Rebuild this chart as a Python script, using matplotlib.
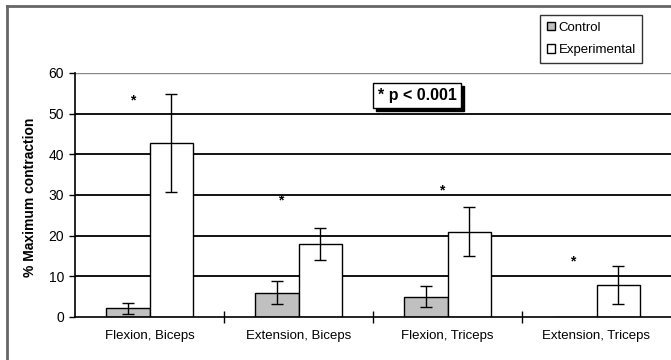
import matplotlib
matplotlib.use("Agg")
import matplotlib.pyplot as plt
from matplotlib.lines import Line2D
from matplotlib.patches import Rectangle
import numpy as np

plt.rcParams['font.family'] = ['Liberation Sans', 'DejaVu Sans']

categories = ["Flexion, Biceps", "Extension, Biceps", "Flexion, Triceps", "Extension, Triceps"]
control = [2.1, 6.0, 5.0, 0.0]
control_err = [1.3, 2.9, 2.6, 0.0]
experimental = [42.8, 18.0, 21.0, 7.9]
experimental_err = [12.0, 4.0, 6.0, 4.6]
star_x = [-0.11, 0.88, 1.96, 2.84]
star_y = [53.3, 28.7, 31.2, 13.6]
yticks = [0, 10, 20, 30, 40, 50, 60]

fig = plt.figure(figsize=(6.71, 3.6), dpi=100)
ax = fig.add_axes([75/671, 1-317/360, 1-75/671, (317-73)/360])

x = np.arange(len(categories))
w = 0.29
ax.set_axisbelow(True)
for yv in yticks[1:]:
    ax.axhline(yv, color='#888888' if yv == 60 else 'black', lw=1.0 if yv == 60 else 1.3, zorder=0)

ax.bar(x - w/2, control, w, color='#c0c0c0', edgecolor='black', lw=1.0, zorder=2, label='Control')
ax.bar(x + w/2, experimental, w, color='white', edgecolor='black', lw=1.0, zorder=2, label='Experimental')
ax.errorbar(x[:3] - w/2, control[:3], yerr=control_err[:3], fmt='none', ecolor='black',
            elinewidth=1.0, capsize=4, capthick=1.0, zorder=3)
ax.errorbar(x + w/2, experimental, yerr=experimental_err, fmt='none', ecolor='black',
            elinewidth=1.0, capsize=4, capthick=1.0, zorder=3)

for sx, sy in zip(star_x, star_y):
    ax.text(sx, sy, '*', ha='center', va='center', fontsize=10, fontweight='bold', zorder=4)

ax.set_xlim(-0.5, 3.5)
ax.set_ylim(0, 60)
ax.set_yticks(yticks)
ax.set_xticks(x)
ax.set_xticklabels(categories, fontsize=9.5)
ax.set_xticks([0.5, 1.5, 2.5], minor=True)
ax.tick_params(axis='x', which='major', length=0, pad=9)
ax.tick_params(axis='x', which='minor', length=8, direction='inout', width=1)
ax.tick_params(axis='y', length=4, width=1, labelsize=10, pad=4)
for s in ['top', 'right']:
    ax.spines[s].set_visible(False)
for s in ['left', 'bottom']:
    ax.spines[s].set_linewidth(1.2)
ax.set_ylabel('% Maximum contraction', fontsize=10, fontweight='bold')
ax.yaxis.set_label_coords(-0.063, 0.49)

# p-value box with drop shadow
ptxt = ax.text(1.795, 54.5, '* p < 0.001', ha='center', va='center', fontsize=11.5, fontweight='bold',
               color='black', zorder=6,
               bbox=dict(boxstyle='square,pad=0.3', fc='white', ec='black', lw=1))

leg = fig.legend(loc='upper left', bbox_to_anchor=(540/671, 1-15/360), fontsize=9.5,
                 frameon=True, fancybox=False, edgecolor='black', handlelength=0.6,
                 handleheight=0.6, handletextpad=0.3, labelspacing=0.8, borderpad=0.5,
                 borderaxespad=0)
leg.get_frame().set_linewidth(1.0)

fig.canvas.draw()
bb = ptxt.get_bbox_patch().get_window_extent().transformed(fig.transFigure.inverted())
dx, dy = 3/671, 3/360
fig.add_artist(Rectangle((bb.x0 + dx, bb.y0 - dy), bb.width, bb.height, transform=fig.transFigure,
                         fc='black', ec='black', zorder=1))
ax.set_zorder(2)
ax.patch.set_alpha(0)

# outer frame
fig.add_artist(Line2D([7/671, 7/671], [0, 1-6/360], transform=fig.transFigure, color='#666666', lw=2))
fig.add_artist(Line2D([7/671, 1], [1-6/360, 1-6/360], transform=fig.transFigure, color='#666666', lw=2))

fig.savefig('out.png', dpi=100)
